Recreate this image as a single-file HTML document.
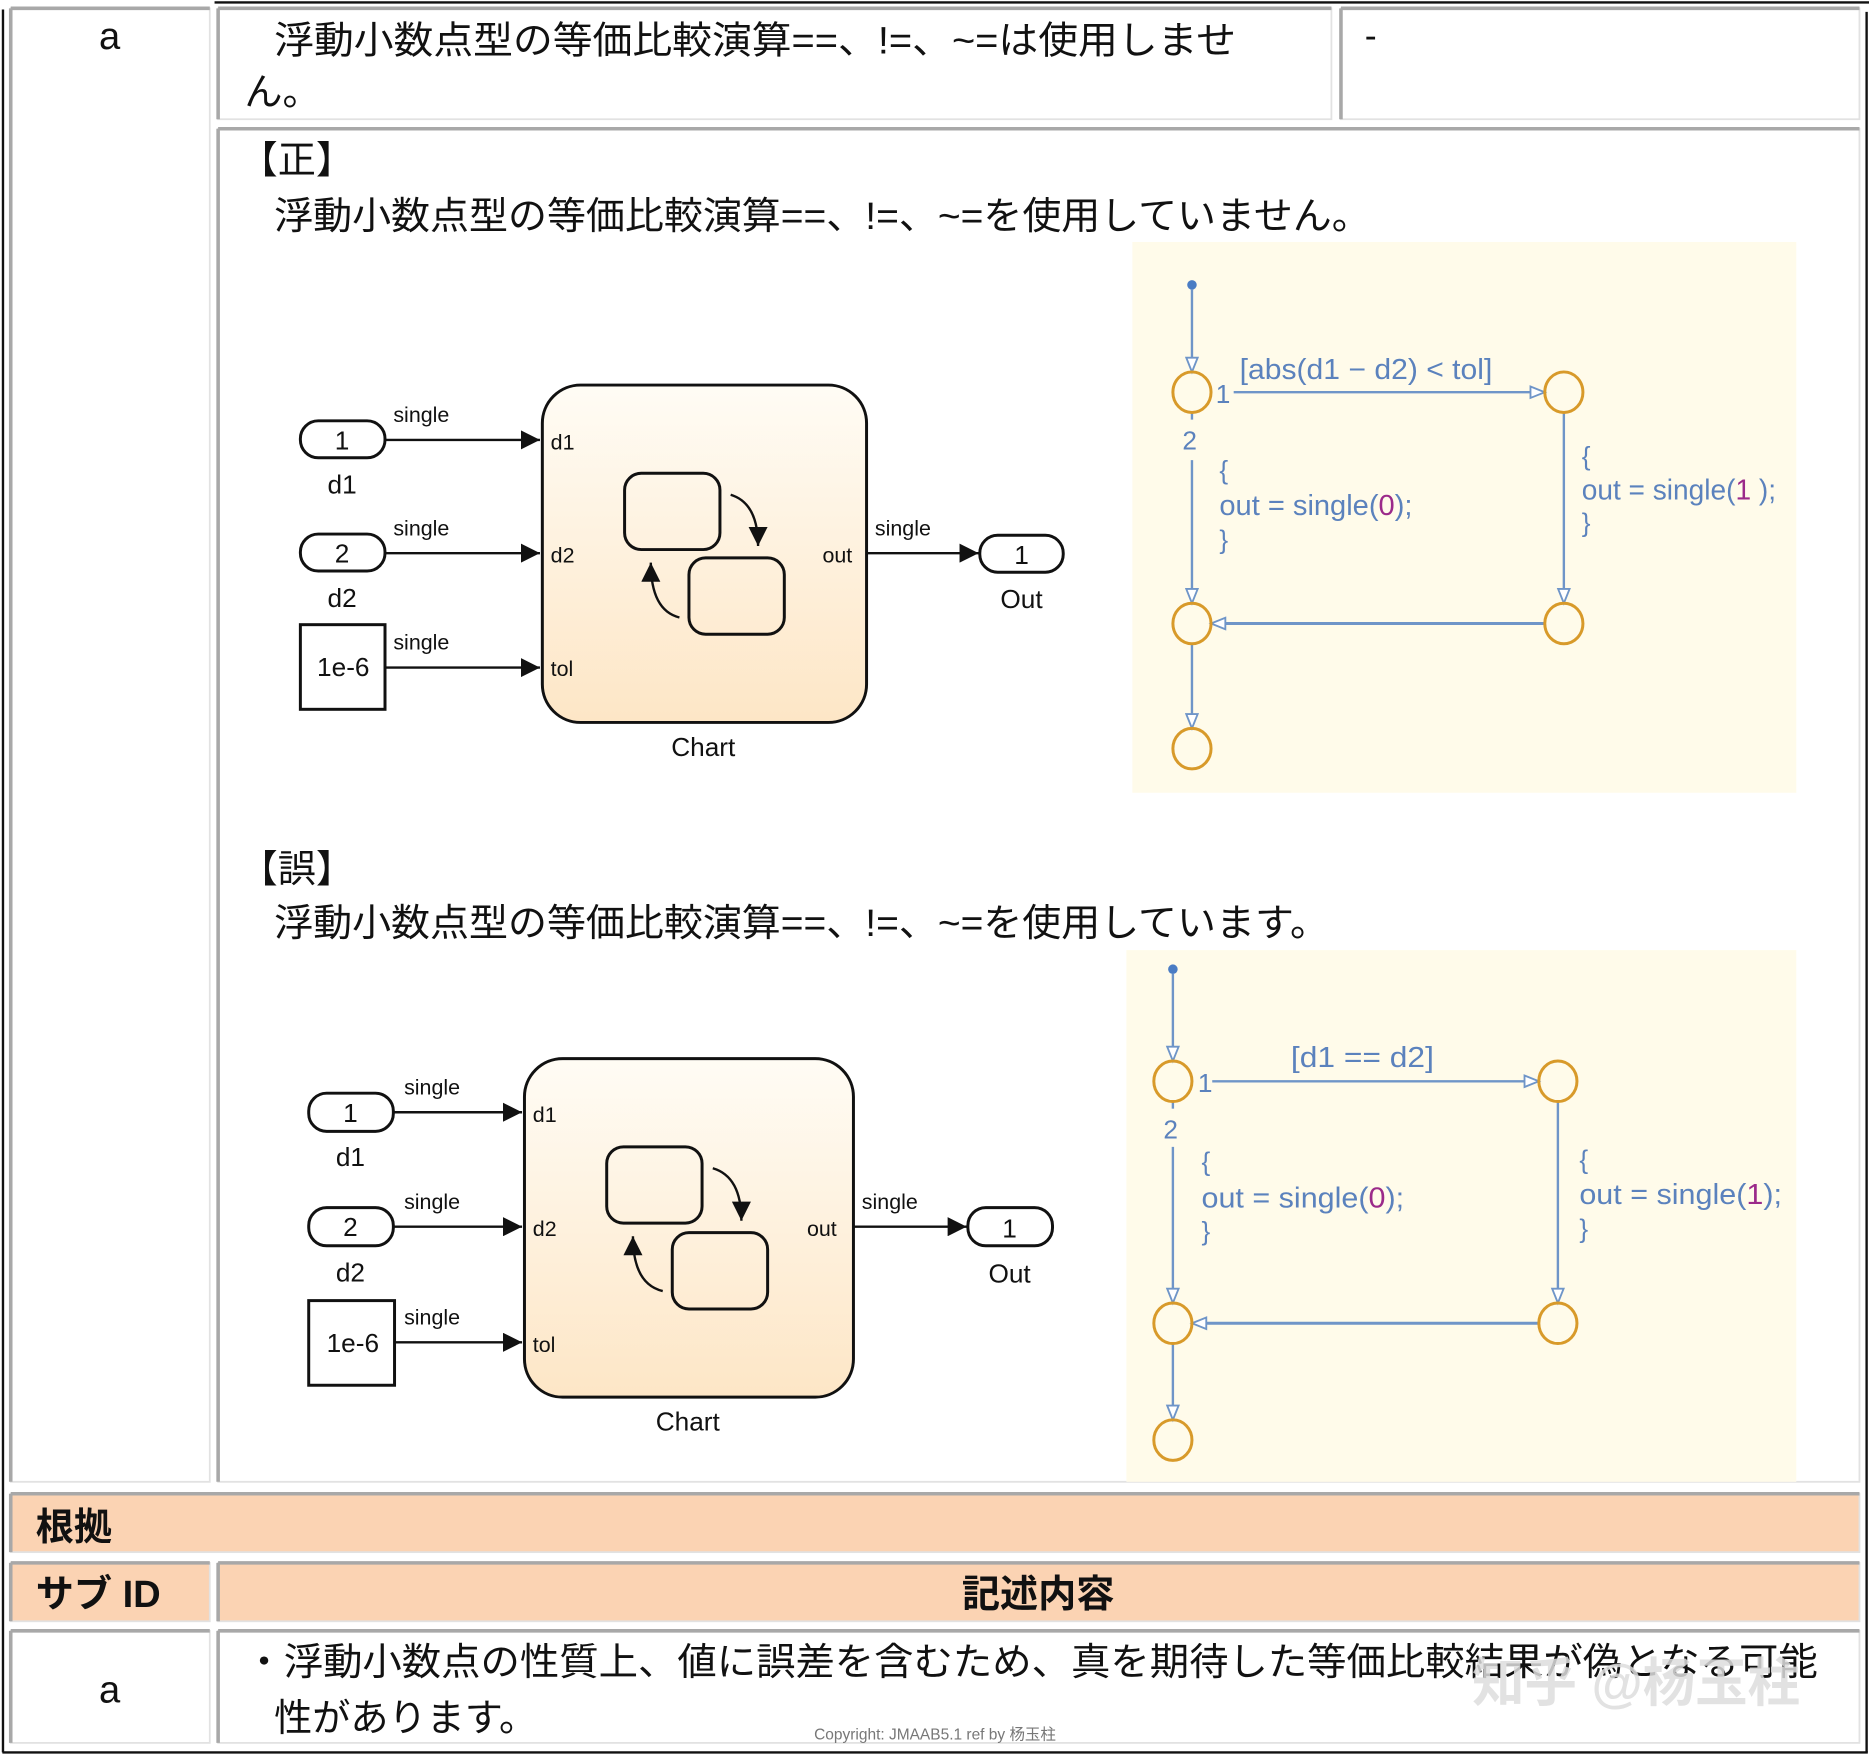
<!DOCTYPE html>
<html><head><meta charset="utf-8"><style>
html,body{margin:0;padding:0;background:#fff;}
svg{display:block;}
.jp{font-family:"Liberation Sans","Noto Sans CJK JP",sans-serif;fill:#111;}
.sl{font-family:"Liberation Sans",sans-serif;fill:#111;}
.sf{font-family:"Liberation Sans",sans-serif;fill:#5b82bd;}
</style></head><body>
<svg width="1869" height="1756" viewBox="0 0 1568 1473" preserveAspectRatio="none" xmlns="http://www.w3.org/2000/svg">
<defs>
<linearGradient id="cg" x1="0" y1="0" x2="0" y2="1"><stop offset="0" stop-color="#fffcf5"/><stop offset="1" stop-color="#fde6c6"/></linearGradient>
<marker id="ba" viewBox="0 0 10 10" refX="10" refY="5" markerWidth="16" markerHeight="16" markerUnits="userSpaceOnUse" orient="auto"><path d="M0,0 L10,5 L0,10 z" fill="#111"/></marker>
<marker id="sa" viewBox="0 0 10 10" refX="10" refY="5" markerWidth="18" markerHeight="12" markerUnits="userSpaceOnUse" orient="auto"><path d="M0,1 L10,5 L0,9 z" fill="#fff" stroke="#6f95c8" stroke-width="1.3"/></marker>
</defs>
<rect width="1568" height="1473" fill="#fff"/>
<!-- outer frame -->
<line x1="180" y1="2" x2="1568" y2="2" stroke="#111" stroke-width="2"/>
<line x1="2.5" y1="8" x2="2.5" y2="1470" stroke="#111" stroke-width="2"/>
<line x1="1566" y1="10" x2="1566" y2="1470" stroke="#111" stroke-width="2"/>
<line x1="2" y1="1470" x2="1567" y2="1470" stroke="#111" stroke-width="2"/>
<g fill="#fff" stroke="#e2e2e2" stroke-width="1.5">
<rect x="9" y="7" width="167" height="1236"/>
<rect x="183" y="7" width="934" height="93"/>
<rect x="1125" y="7" width="435" height="93"/>
<rect x="183" y="108" width="1377" height="1135"/>
<rect x="9" y="1253" width="1551" height="49" fill="#fbd3b3"/>
<rect x="9" y="1311" width="167" height="49" fill="#fbd3b3"/>
<rect x="183" y="1311" width="1377" height="49" fill="#fbd3b3"/>
<rect x="9" y="1368" width="167" height="94"/>
<rect x="183" y="1368" width="1377" height="94"/>
</g>
<g stroke="#a8a8a8" stroke-width="3">
<line x1="9" y1="7" x2="176" y2="7"/><line x1="9" y1="7" x2="9" y2="1243"/>
<line x1="183" y1="7" x2="1117" y2="7"/><line x1="183" y1="7" x2="183" y2="100"/>
<line x1="1125" y1="7" x2="1560" y2="7"/><line x1="1125" y1="7" x2="1125" y2="100"/>
<line x1="183" y1="108" x2="1560" y2="108"/><line x1="183" y1="108" x2="183" y2="1243"/>
<line x1="9" y1="1253" x2="1560" y2="1253"/><line x1="9" y1="1253" x2="9" y2="1302"/>
<line x1="9" y1="1311" x2="176" y2="1311"/><line x1="9" y1="1311" x2="9" y2="1360"/>
<line x1="183" y1="1311" x2="1560" y2="1311"/><line x1="183" y1="1311" x2="183" y2="1360"/>
<line x1="9" y1="1368" x2="176" y2="1368"/><line x1="9" y1="1368" x2="9" y2="1462"/>
<line x1="183" y1="1368" x2="1560" y2="1368"/><line x1="183" y1="1368" x2="183" y2="1462"/>
</g>
<!-- texts -->
<text class="jp" x="92" y="41" font-size="32" text-anchor="middle">a</text>
<text class="jp" x="230" y="45" font-size="32" textLength="807" lengthAdjust="spacingAndGlyphs">浮動小数点型の等価比較演算==、!=、~=は使用しませ</text>
<text class="jp" x="205" y="88" font-size="32">ん。</text>
<text class="jp" x="1145" y="40" font-size="30">-</text>
<text class="jp" x="201" y="145" font-size="32">【正】</text>
<text class="jp" x="230" y="192" font-size="32" textLength="920" lengthAdjust="spacingAndGlyphs">浮動小数点型の等価比較演算==、!=、~=を使用していません。</text>
<text class="jp" x="201" y="740" font-size="32">【誤】</text>
<text class="jp" x="230" y="785" font-size="32" textLength="885" lengthAdjust="spacingAndGlyphs">浮動小数点型の等価比較演算==、!=、~=を使用しています。</text>
<text class="jp" x="30" y="1292" font-size="32" font-weight="bold">根拠</text>
<text class="jp" x="30" y="1348" font-size="32" font-weight="bold">サブ ID</text>
<text class="jp" x="871" y="1348" font-size="32" font-weight="bold" text-anchor="middle">記述内容</text>
<text class="jp" x="92" y="1428" font-size="32" text-anchor="middle">a</text>
<text class="jp" x="205" y="1405" font-size="32" textLength="1320" lengthAdjust="spacingAndGlyphs">・浮動小数点の性質上、値に誤差を含むため、真を期待した等価比較結果が偽となる可能</text>
<text class="jp" x="230" y="1452" font-size="32">性があります。</text>
<text class="jp" x="683" y="1459" font-size="13" fill="#666" style="fill:#777">Copyright: JMAAB5.1 ref by 杨玉柱</text>
<text class="jp" x="1235" y="1427" font-size="44" style="fill:#ddd;opacity:0.85" font-weight="bold">知乎 @杨玉柱</text>

<!-- chart backgrounds -->
<rect x="950" y="203" width="557" height="462" fill="#fffbea"/>
<rect x="945" y="797" width="562" height="446" fill="#fffbea"/>

<!-- Simulink diagram 1 -->
<g class="sl" stroke="#111" stroke-width="2">
<rect x="252" y="353" width="71" height="31" rx="15" fill="#fff" stroke-width="2.5"/>
<rect x="252" y="448" width="71" height="31" rx="15" fill="#fff" stroke-width="2.5"/>
<rect x="252" y="524" width="71" height="71" fill="#fff" stroke-width="2.5"/>
<line x1="323" y1="369" x2="453" y2="369" marker-end="url(#ba)"/>
<line x1="323" y1="464" x2="453" y2="464" marker-end="url(#ba)"/>
<line x1="323" y1="560" x2="453" y2="560" marker-end="url(#ba)"/>
<rect x="455" y="323" width="272" height="283" rx="32" fill="url(#cg)" stroke-width="2.5"/>
<line x1="727" y1="464" x2="821" y2="464" marker-end="url(#ba)"/>
<rect x="822" y="449" width="70" height="31" rx="15" fill="#fff" stroke-width="2.5"/>
<rect x="524" y="397" width="80" height="64" rx="14" fill="none" stroke-width="2.5"/>
<rect x="578" y="468" width="80" height="64" rx="14" fill="none" stroke-width="2.5"/>
<path d="M613,415 Q636,422 636,458" fill="none" marker-end="url(#ba)"/>
<path d="M570,518 Q546,512 546,472" fill="none" marker-end="url(#ba)"/>
</g>
<g class="sl">
<text x="287" y="377" font-size="22" text-anchor="middle">1</text>
<text x="287" y="472" font-size="22" text-anchor="middle">2</text>
<text x="288" y="567" font-size="22" text-anchor="middle">1e-6</text>
<text x="287" y="414" font-size="22" text-anchor="middle">d1</text>
<text x="287" y="509" font-size="22" text-anchor="middle">d2</text>
<text x="330" y="354" font-size="18">single</text>
<text x="330" y="449" font-size="18">single</text>
<text x="330" y="545" font-size="18">single</text>
<text x="734" y="449" font-size="18">single</text>
<text x="462" y="377" font-size="18">d1</text>
<text x="462" y="472" font-size="18">d2</text>
<text x="462" y="567" font-size="18">tol</text>
<text x="690" y="472" font-size="18">out</text>
<text x="857" y="473" font-size="22" text-anchor="middle">1</text>
<text x="857" y="510" font-size="22" text-anchor="middle">Out</text>
<text x="590" y="634" font-size="22" text-anchor="middle">Chart</text>
</g>

<!-- Simulink diagram 2 -->
<g class="sl" stroke="#111" stroke-width="2">
<rect x="259" y="917" width="71" height="32" rx="15" fill="#fff" stroke-width="2.5"/>
<rect x="259" y="1013" width="71" height="32" rx="15" fill="#fff" stroke-width="2.5"/>
<rect x="259" y="1091" width="72" height="71" fill="#fff" stroke-width="2.5"/>
<line x1="330" y1="933" x2="438" y2="933" marker-end="url(#ba)"/>
<line x1="330" y1="1029" x2="438" y2="1029" marker-end="url(#ba)"/>
<line x1="331" y1="1126" x2="438" y2="1126" marker-end="url(#ba)"/>
<rect x="440" y="888" width="276" height="284" rx="32" fill="url(#cg)" stroke-width="2.5"/>
<line x1="716" y1="1029" x2="811" y2="1029" marker-end="url(#ba)"/>
<rect x="812" y="1013" width="71" height="32" rx="15" fill="#fff" stroke-width="2.5"/>
<rect x="509" y="962" width="80" height="64" rx="14" fill="none" stroke-width="2.5"/>
<rect x="564" y="1034" width="80" height="64" rx="14" fill="none" stroke-width="2.5"/>
<path d="M598,980 Q622,987 622,1024" fill="none" marker-end="url(#ba)"/>
<path d="M556,1083 Q531,1077 531,1037" fill="none" marker-end="url(#ba)"/>
</g>
<g class="sl">
<text x="294" y="941" font-size="22" text-anchor="middle">1</text>
<text x="294" y="1037" font-size="22" text-anchor="middle">2</text>
<text x="296" y="1134" font-size="22" text-anchor="middle">1e-6</text>
<text x="294" y="978" font-size="22" text-anchor="middle">d1</text>
<text x="294" y="1075" font-size="22" text-anchor="middle">d2</text>
<text x="339" y="918" font-size="18">single</text>
<text x="339" y="1014" font-size="18">single</text>
<text x="339" y="1111" font-size="18">single</text>
<text x="723" y="1014" font-size="18">single</text>
<text x="447" y="941" font-size="18">d1</text>
<text x="447" y="1037" font-size="18">d2</text>
<text x="447" y="1134" font-size="18">tol</text>
<text x="677" y="1037" font-size="18">out</text>
<text x="847" y="1038" font-size="22" text-anchor="middle">1</text>
<text x="847" y="1076" font-size="22" text-anchor="middle">Out</text>
<text x="577" y="1200" font-size="22" text-anchor="middle">Chart</text>
</g>

<!-- Stateflow 1 -->
<g stroke="#6f95c8" stroke-width="2" fill="none">
<circle cx="1000" cy="239" r="4" fill="#4a7cc4" stroke="none"/>
<line x1="1000" y1="243" x2="1000" y2="312" marker-end="url(#sa)"/>
<line x1="1035" y1="329" x2="1296" y2="329" marker-end="url(#sa)"/>
<line x1="1000" y1="386" x2="1000" y2="506" marker-end="url(#sa)"/>
<line x1="1000" y1="346" x2="1000" y2="352"/>
<line x1="1312" y1="346" x2="1312" y2="506" marker-end="url(#sa)"/>
<line x1="1296" y1="523" x2="1016" y2="523" stroke-width="2.5" marker-end="url(#sa)"/>
<line x1="1000" y1="540" x2="1000" y2="611" marker-end="url(#sa)"/>
</g>
<g stroke="#d89a2a" stroke-width="2.5" fill="none">
<ellipse cx="1000" cy="329" rx="16" ry="17"/><ellipse cx="1312" cy="329" rx="16" ry="17"/>
<ellipse cx="1000" cy="523" rx="16" ry="17"/><ellipse cx="1312" cy="523" rx="16" ry="17"/>
<ellipse cx="1000" cy="628" rx="16" ry="17"/>
</g>
<g class="sf">
<text x="1020" y="338" font-size="22">1</text>
<text x="992" y="377" font-size="22">2</text>
<text x="1040" y="318" font-size="24" textLength="212" lengthAdjust="spacingAndGlyphs">[abs(d1 − d2) &lt; tol]</text>
<text x="1023" y="402" font-size="22">{</text>
<text x="1023" y="432" font-size="24" textLength="162" lengthAdjust="spacingAndGlyphs">out = single(<tspan style="fill:#9b2a8a">0</tspan>);</text>
<text x="1023" y="460" font-size="22">}</text>
<text x="1327" y="390" font-size="22">{</text>
<text x="1327" y="419" font-size="24" textLength="163" lengthAdjust="spacingAndGlyphs">out = single(<tspan style="fill:#9b2a8a">1</tspan> );</text>
<text x="1327" y="446" font-size="22">}</text>
</g>

<!-- Stateflow 2 -->
<g stroke="#6f95c8" stroke-width="2" fill="none">
<circle cx="984" cy="813" r="4" fill="#4a7cc4" stroke="none"/>
<line x1="984" y1="817" x2="984" y2="890" marker-end="url(#sa)"/>
<line x1="1017" y1="907" x2="1291" y2="907" marker-end="url(#sa)"/>
<line x1="984" y1="924" x2="984" y2="930"/>
<line x1="984" y1="962" x2="984" y2="1093" marker-end="url(#sa)"/>
<line x1="1307" y1="924" x2="1307" y2="1093" marker-end="url(#sa)"/>
<line x1="1291" y1="1110" x2="1000" y2="1110" stroke-width="2.5" marker-end="url(#sa)"/>
<line x1="984" y1="1127" x2="984" y2="1191" marker-end="url(#sa)"/>
</g>
<g stroke="#d89a2a" stroke-width="2.5" fill="none">
<ellipse cx="984" cy="907" rx="16" ry="17"/><ellipse cx="1307" cy="907" rx="16" ry="17"/>
<ellipse cx="984" cy="1110" rx="16" ry="17"/><ellipse cx="1307" cy="1110" rx="16" ry="17"/>
<ellipse cx="984" cy="1208" rx="16" ry="17"/>
</g>
<g class="sf">
<text x="1005" y="916" font-size="22">1</text>
<text x="976" y="955" font-size="22">2</text>
<text x="1083" y="895" font-size="24" textLength="120" lengthAdjust="spacingAndGlyphs">[d1 == d2]</text>
<text x="1008" y="982" font-size="22">{</text>
<text x="1008" y="1013" font-size="24" textLength="170" lengthAdjust="spacingAndGlyphs">out = single(<tspan style="fill:#9b2a8a">0</tspan>);</text>
<text x="1008" y="1040" font-size="22">}</text>
<text x="1325" y="980" font-size="22">{</text>
<text x="1325" y="1010" font-size="24" textLength="170" lengthAdjust="spacingAndGlyphs">out = single(<tspan style="fill:#9b2a8a">1</tspan>);</text>
<text x="1325" y="1038" font-size="22">}</text>
</g>
</svg>
</body></html>
